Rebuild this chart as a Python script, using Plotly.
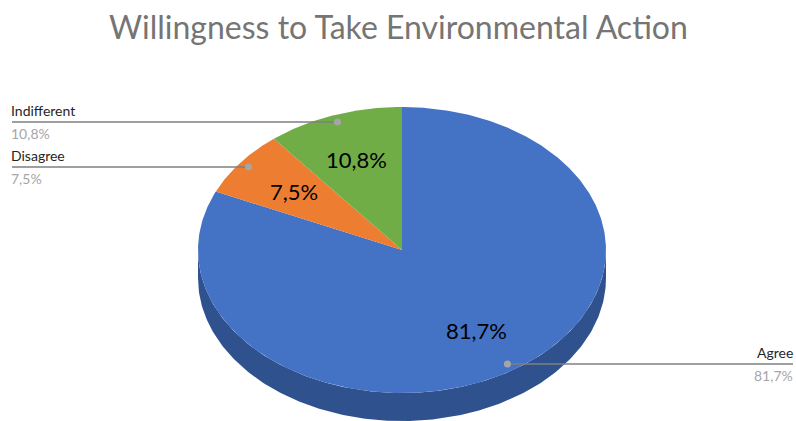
import numpy as np
import plotly.graph_objects as go

# ---- data ----
categories = ["Agree", "Disagree", "Indifferent"]
values = [81.7, 7.5, 10.8]
value_labels = ["81,7%", "7,5%", "10,8%"]
title_text = "Willingness to Take Environmental Action"

# ---- style ----
colors = ["#4472C4", "#ED7D31", "#70AD47"]
side_color = "#2F528F"
W, H = 796, 421
CX, CY, RA, RB, DEPTH = 402, 250, 204, 143, 28
FONT = "Lato, 'Open Sans', sans-serif"


def pt(theta_deg, r=1.0, dy=0.0):
    t = np.radians(theta_deg)
    return CX + RA * r * np.sin(t), CY - RB * r * np.cos(t) + dy


fig = go.Figure()

# 3D side wall (front half of the ellipse, 90° -> 270° clockwise from top)
th = np.linspace(90, 270, 200)
xs_top, ys_top = pt(th)
xs_bot, ys_bot = pt(th[::-1], dy=DEPTH)
fig.add_trace(go.Scatter(
    x=np.concatenate([xs_top, xs_bot, xs_top[:1]]),
    y=np.concatenate([ys_top, ys_bot, ys_top[:1]]),
    fill="toself", fillcolor=side_color, mode="lines",
    line=dict(width=0, color=side_color), hoverinfo="skip", showlegend=False))

# slices on top face
total = sum(values)
start = 0.0
mids = []
for cat, v, c in zip(categories, values, colors):
    span = 360.0 * v / total
    th = np.linspace(start, start + span, max(int(span * 2), 4))
    ax, ay = pt(th)
    fig.add_trace(go.Scatter(
        x=np.concatenate([[CX], ax, [CX]]),
        y=np.concatenate([[CY], ay, [CY]]),
        fill="toself", fillcolor=c, mode="lines",
        line=dict(width=0, color=c), name=cat, hoverinfo="skip", showlegend=False))
    mids.append(start + span / 2)
    start += span

annotations = []
# inside value labels
for m, lab in zip(mids, value_labels):
    x, y = pt(m, r=0.67)
    annotations.append(dict(x=x, y=y, xref="x", yref="y", text=lab, showarrow=False,
                            font=dict(family=FONT, size=22, color="#000000")))

# leader lines with outside labels
dot_x, dot_y = [], []
for cat, m, lab in zip(categories, mids, value_labels):
    dx, dy = pt(m, r=0.95)
    dot_x.append(dx)
    dot_y.append(dy)
    if dx > CX:
        x_end, x_txt, anchor = 793, 795, "right"
    else:
        x_end, x_txt, anchor = 12, 9, "left"
    fig.add_trace(go.Scatter(x=[dx, x_end], y=[dy, dy], mode="lines",
                             line=dict(color="#7F7F7F", width=1.5),
                             hoverinfo="skip", showlegend=False))
    annotations.append(dict(x=x_txt, y=dy - 1, xref="x", yref="y", text=cat,
                            showarrow=False, xanchor=anchor, yanchor="bottom",
                            font=dict(family=FONT, size=14, color="#262626")))
    annotations.append(dict(x=x_txt, y=dy + 1, xref="x", yref="y", text=lab,
                            showarrow=False, xanchor=anchor, yanchor="top",
                            font=dict(family=FONT, size=14, color="#A6A6A6")))

fig.add_trace(go.Scatter(x=dot_x, y=dot_y, mode="markers",
                         marker=dict(color="#A5A5A5", size=7),
                         hoverinfo="skip", showlegend=False))

annotations.append(dict(x=0.5, y=1 - 27 / H, xref="paper", yref="paper",
                        text=title_text, showarrow=False, yanchor="middle",
                        font=dict(family=FONT, size=32, color="#757575")))

fig.update_layout(
    width=W, height=H, margin=dict(l=0, r=0, t=0, b=0),
    paper_bgcolor="white", plot_bgcolor="white",
    xaxis=dict(range=[0, W], visible=False, fixedrange=True),
    yaxis=dict(range=[H, 0], visible=False, fixedrange=True),
    annotations=annotations, showlegend=False,
)

fig.write_html("out.html")
